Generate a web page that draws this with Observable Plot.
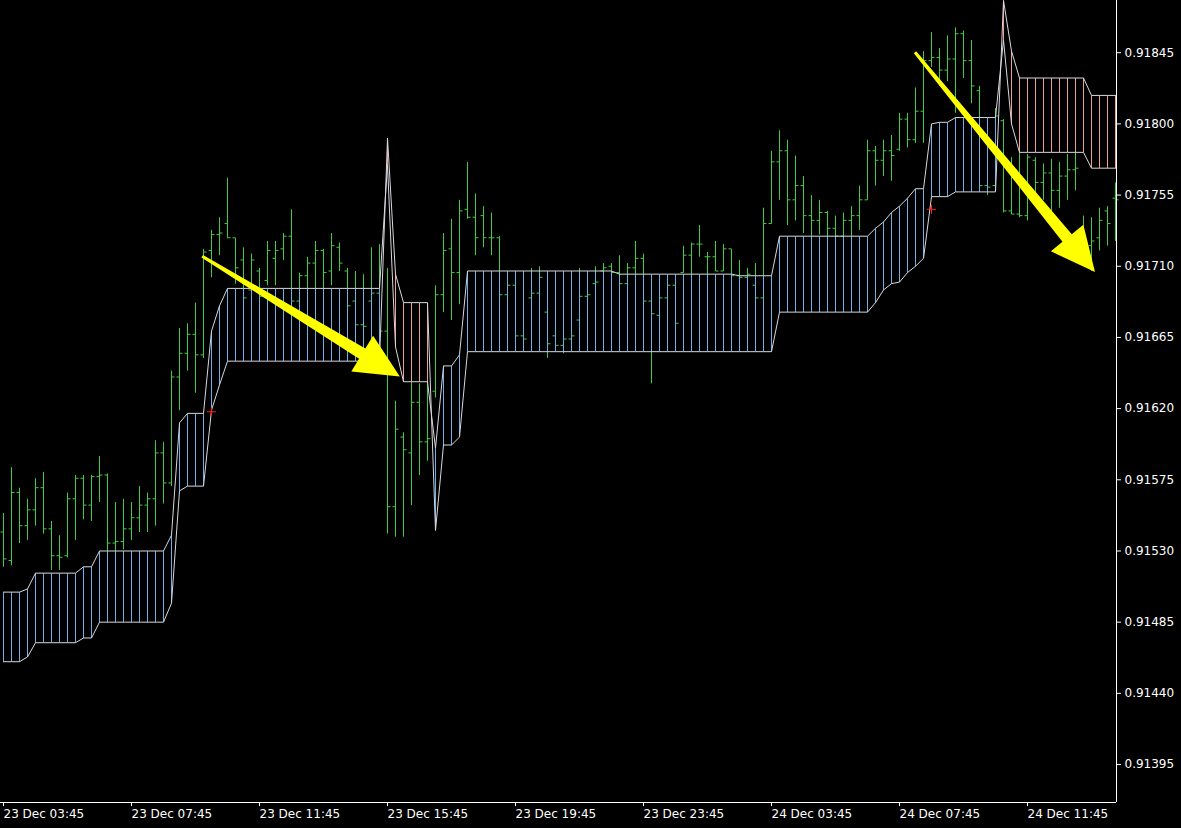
<!DOCTYPE html>
<html><head><meta charset="utf-8">
<script src="https://cdn.jsdelivr.net/npm/d3@7"></script>
<script src="https://cdn.jsdelivr.net/npm/@observablehq/plot@0.6"></script>
<style>html,body{margin:0;padding:0;background:#000;overflow:hidden}</style>
</head><body><div id="chart"></div>
<script>
// 15-minute bars, prices in points (1 point = 0.00001)
const firstBar = "2019-12-23T03:45:00Z";
const barMinutes = 15;

const high = [
91554,91583,91570,91563,91576,91580,91549,91540,91567,91578,
91578,91578,91590,91579,91561,91563,91561,91571,91567,91600,
91599,91644,91671,91674,91687,91721,91733,91741,91766,91728,
91722,91718,91709,91726,91726,91731,91746,91706,91716,91726,
91721,91731,91725,91709,91707,91705,91722,91724,91709,91625,
91605,91637,91636,91678,91698,91731,91740,91752,91776,91756,
91748,91744,91729,91704,91699,91688,91709,91710,91683,91669,
91666,91676,91709,91700,91710,91712,91712,91717,91712,91726,
91718,91695,91695,91701,91705,91723,91725,91736,91719,91726,
91724,91721,91714,91709,91712,91747,91783,91796,91790,91780,
91767,91755,91752,91745,91742,91744,91748,91761,91790,91786,
91790,91793,91807,91807,91823,91846,91858,91848,91856,91861,
91859,91853,91824,91774,91810,91803,91779,91788,91781,91779,
91775,91778,91776,91781,91783,91742,91741,91747,91748,91763];

const low = [
91520,91521,91535,91537,91546,91541,91518,91518,91526,91537,
91550,91549,91561,91530,91530,91531,91537,91542,91542,91546,
91560,91571,91619,91644,91630,91652,91703,91717,91728,91699,
91671,91686,91687,91698,91698,91714,91686,91685,91695,91688,
91695,91698,91707,91682,91669,91666,91686,91663,91541,91539,
91539,91559,91578,91587,91627,91681,91676,91686,91740,91717,
91722,91717,91690,91688,91666,91660,91688,91688,91652,91657,
91655,91663,91674,91688,91698,91704,91698,91695,91688,91695,
91676,91636,91669,91676,91674,91706,91704,91716,91704,91707,
91707,91702,91703,91701,91690,91690,91737,91752,91736,91739,
91731,91726,91730,91720,91721,91726,91717,91733,91752,91761,
91767,91764,91783,91785,91788,91788,91836,91824,91827,91807,
91829,91813,91758,91755,91758,91744,91743,91741,91739,91750,
91752,91743,91747,91752,91758,91712,91707,91720,91723,91726];

const open = [
91542,91524,91567,91546,91556,91570,91544,91527,91527,91563,
91576,91559,91577,91578,91535,91536,91544,91551,91559,91563,
91592,91573,91640,91655,91667,91654,91720,91730,91737,91728,
91714,91695,91707,91701,91715,91721,91729,91688,91704,91712,
91720,91707,91722,91707,91688,91673,91688,91693,91669,91558,
91602,91592,91624,91599,91631,91692,91721,91706,91746,91741,
91742,91728,91728,91692,91698,91666,91690,91693,91681,91666,
91660,91664,91676,91691,91699,91707,91710,91706,91699,91709,
91715,91688,91679,91690,91698,91706,91717,91724,91716,91716,
91707,91721,91704,91703,91698,91690,91737,91776,91783,91752,
91761,91742,91739,91744,91734,91729,91739,91742,91752,91783,
91777,91783,91784,91803,91790,91808,91840,91842,91834,91841,
91857,91840,91821,91761,91761,91802,91745,91743,91742,91777,
91763,91769,91758,91767,91771,91733,91723,91728,91745,91753];

const close = [
91525,91567,91546,91556,91570,91544,91527,91526,91563,91576,
91559,91577,91578,91535,91536,91544,91551,91559,91563,91592,
91573,91640,91655,91667,91654,91719,91730,91731,91728,91709,
91690,91714,91691,91720,91720,91729,91688,91704,91712,91720,
91706,91723,91712,91685,91673,91672,91693,91669,91558,91607,
91594,91624,91599,91601,91692,91720,91706,91745,91741,91728,
91728,91728,91692,91698,91666,91664,91693,91703,91661,91660,
91664,91666,91691,91692,91700,91709,91706,91699,91709,91715,
91688,91680,91690,91698,91674,91717,91724,91724,91716,91707,
91721,91704,91703,91705,91690,91737,91776,91783,91752,91761,
91742,91739,91744,91734,91729,91739,91742,91752,91783,91777,
91783,91780,91803,91790,91808,91840,91842,91834,91841,91857,
91840,91824,91761,91760,91805,91745,91743,91742,91779,91763,
91769,91758,91767,91771,91772,91723,91726,91739,91737,91752];

const spanA = [
91504,91504,91504,91506,91516,91516,91516,91516,91516,91516,
91520,91520,91530,91530,91530,91530,91530,91530,91530,91530,
91530,91540,91611,91617,91617,91617,91669,91685,91696,91696,
91696,91696,91696,91696,91696,91696,91696,91696,91696,91696,
91696,91696,91696,91696,91696,91696,91696,91696,91774,91659,
91637,91637,91637,91637,91595,91647,91647,91654,91707,91707,
91707,91707,91707,91707,91707,91707,91707,91707,91707,91707,
91707,91707,91707,91707,91707,91707,91707,91705,91705,91705,
91705,91705,91705,91705,91705,91705,91705,91705,91705,91705,
91705,91705,91704,91704,91704,91704,91704,91729,91729,91729,
91729,91729,91729,91729,91729,91729,91729,91729,91729,91734,
91738,91744,91748,91753,91759,91759,91800,91801,91801,91804,
91804,91804,91804,91804,91804,91853,91800,91782,91782,91782,
91782,91782,91782,91782,91782,91782,91772,91772,91772,91772];

const spanB = [
91460,91460,91460,91463,91472,91472,91472,91472,91472,91472,
91475,91475,91485,91485,91485,91485,91485,91485,91485,91485,
91485,91497,91568,91571,91571,91571,91619,91635,91650,91650,
91650,91650,91650,91650,91650,91650,91650,91650,91650,91650,
91650,91650,91650,91650,91650,91650,91650,91650,91791,91705,
91687,91687,91687,91687,91543,91597,91597,91602,91656,91656,
91656,91656,91656,91656,91656,91656,91656,91656,91656,91656,
91656,91656,91656,91656,91656,91656,91656,91656,91656,91656,
91656,91656,91656,91656,91656,91656,91656,91656,91656,91656,
91656,91656,91656,91656,91656,91656,91656,91681,91681,91681,
91681,91681,91681,91681,91681,91681,91681,91681,91681,91687,
91695,91699,91700,91706,91710,91715,91754,91754,91754,91757,
91757,91757,91757,91757,91757,91878,91846,91829,91829,91829,
91829,91829,91829,91829,91829,91829,91818,91818,91818,91818];

const xTickLabels = ["2019-12-23T03:45Z","2019-12-23T07:45Z","2019-12-23T11:45Z","2019-12-23T15:45Z",
  "2019-12-23T19:45Z","2019-12-23T23:45Z","2019-12-24T03:45Z","2019-12-24T07:45Z","2019-12-24T11:45Z"];
const yTickLabels = ["0.91395","0.91440","0.91485","0.91530","0.91575","0.91620","0.91665","0.91710","0.91755","0.91800","0.91845"];

const redMarkBars = [26, 116];
const redMarkPrices = [91618, 91746];

const arrowFromBar = [24.9, 114.0];
const arrowFromPrice = [91716, 91845];
const arrowToBar = [49.6, 136.5];
const arrowToPrice = [91640, 91706];

// view window (in bars / points)
const viewBars = [-0.375, 139.125];
const viewPoints = [91371, 91878];

// ---- build tables ----
const t0 = new Date(firstBar).getTime();
const barMs = barMinutes * 60000;
const tAt = k => new Date(t0 + k * barMs);
const pt = v => v / 1e5;
const tickMs = barMs * 3 / 8;

const rows = high.map((h, k) => ({
  t: tAt(k), high: pt(h), low: pt(low[k]), open: pt(open[k]), close: pt(close[k]),
  a: pt(spanA[k]), b: pt(spanB[k])
}));
const redRows = redMarkBars.map((k, i) => ({t: tAt(k), y: pt(redMarkPrices[i])}));
const arrowRows = arrowFromBar.map((k, i) => ({
  x1: tAt(k), y1: pt(arrowFromPrice[i]), x2: tAt(arrowToBar[i]), y2: pt(arrowToPrice[i])
}));

const barColor = "#40cc40";
const upCloud = "#6cb0ea";
const downCloud = "#eca094";
const edgeColor = "#d8d8de";

const chart = Plot.plot({
  width: 1181, height: 828,
  marginLeft: 0, marginRight: 65, marginTop: 0, marginBottom: 26,
  style: {background: "#000", color: "#fff", fontFamily: "DejaVu Sans", fontSize: "12px"},
  x: {type: "utc", domain: viewBars.map(tAt)},
  y: {domain: viewPoints.map(pt)},
  marks: [
    Plot.link(rows, {x1: "t", x2: "t", y1: "low", y2: "high", stroke: barColor, strokeWidth: 1}),
    Plot.link(rows, {y1: "open", y2: "open", x1: d => new Date(+d.t - tickMs), x2: "t", stroke: barColor, strokeWidth: 1}),
    Plot.link(rows, {y1: "close", y2: "close", x1: "t", x2: d => new Date(+d.t + tickMs), stroke: barColor, strokeWidth: 1}),
    Plot.link(rows.filter(d => d.a >= d.b), {x1: "t", x2: "t", y1: "a", y2: "b", stroke: upCloud, strokeWidth: 1}),
    Plot.link(rows.filter(d => d.a < d.b), {x1: "t", x2: "t", y1: "a", y2: "b", stroke: downCloud, strokeWidth: 1}),
    Plot.line(rows, {x: "t", y: "a", stroke: edgeColor, strokeWidth: 1}),
    Plot.line(rows, {x: "t", y: "b", stroke: edgeColor, strokeWidth: 1}),
    Plot.dot(redRows, {x: "t", y: "y", symbol: "plus", r: 3, stroke: "#ff2020", strokeWidth: 1}),
    Plot.dot(arrowRows, {x: "x1", y: "y1", render(index, scales, values, dims, context) {
      const g = d3.create("svg:g");
      for (const i of index) {
        const d = arrowRows[i];
        const tx = scales.x(d.x1), ty = scales.y(d.y1), px = scales.x(d.x2), py = scales.y(d.y2);
        const dx = px - tx, dy = py - ty, len = Math.hypot(dx, dy);
        const ux = dx / len, uy = dy / len, nx = -uy, ny = ux;
        const L = 44, W = 21, w1 = 6, w0 = 1.5;
        const bx = px - ux * L, by = py - uy * L;
        const pts = [[tx + nx * w0, ty + ny * w0], [bx + nx * w1, by + ny * w1], [bx + nx * W, by + ny * W],
          [px, py], [bx - nx * W, by - ny * W], [bx - nx * w1, by - ny * w1], [tx - nx * w0, ty - ny * w0]];
        g.append("path").attr("d", "M" + pts.map(p => p.join(",")).join("L") + "Z").attr("fill", "#ffff00");
      }
      return g.node();
    }}),
    Plot.ruleX([tAt(viewBars[1])], {stroke: "#fff", strokeWidth: 1}),
    Plot.ruleY([pt(viewPoints[0])], {stroke: "#fff", strokeWidth: 1}),
    Plot.axisX({ticks: xTickLabels.map(s => new Date(s)), tickFormat: d3.utcFormat("%d %b %H:%M"),
      tickSize: 4, tickPadding: 3, textAnchor: "start", label: null}),
    Plot.axisY({anchor: "right", ticks: yTickLabels.map(Number), tickFormat: d => d.toFixed(5),
      tickSize: 4, tickPadding: 4, label: null})
  ]
});
document.getElementById("chart").appendChild(chart);
</script>
</body></html>
